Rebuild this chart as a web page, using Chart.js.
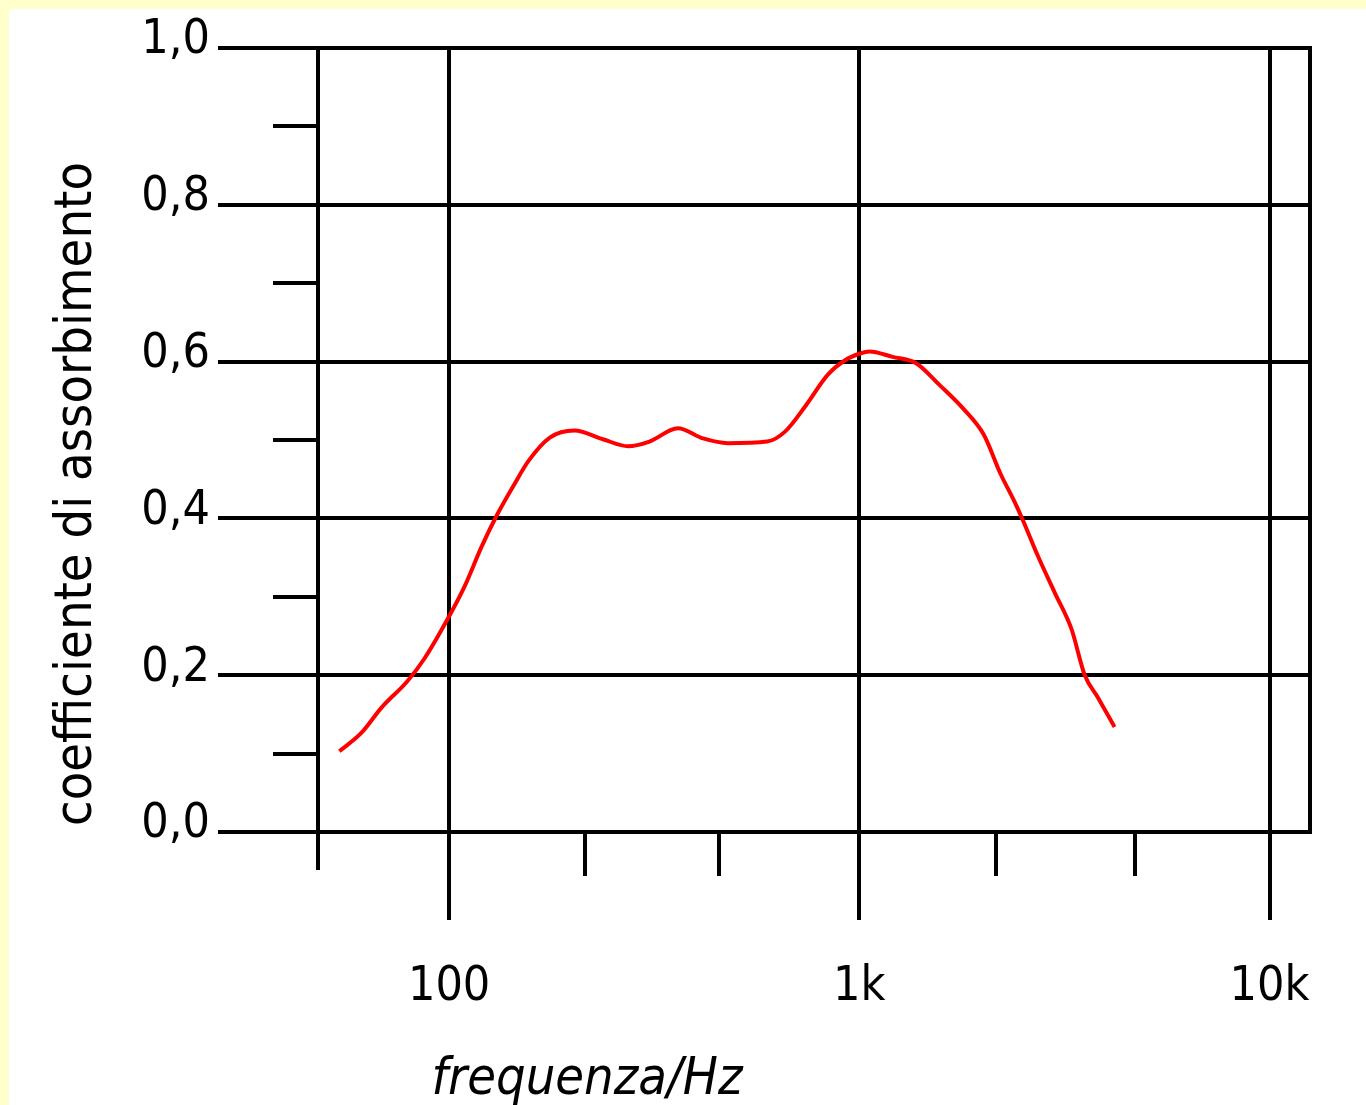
<!DOCTYPE html>
<html>
<head>
<meta charset="utf-8">
<script src="https://cdn.jsdelivr.net/npm/chart.js@4.4.1/dist/chart.umd.min.js"></script>
<style>
  html, body { margin: 0; padding: 0; background: #ffffcc; width: 1366px; height: 1105px; overflow: hidden; }
  #wrap { position: absolute; left: 9px; top: 9px; width: 1357px; height: 1096px; background: #ffffff; }
</style>
</head>
<body>
<div id="wrap"><canvas id="absChart" width="1357" height="1096"></canvas></div>
<script>
// Data
const freqHz = [54, 61, 68.5, 79, 87, 99, 109, 120, 131, 144, 156, 176, 202, 237, 273, 308, 361, 416, 478, 596,
                660, 743, 837, 925, 1000, 1058, 1205, 1375, 1570, 1792, 2010, 2213, 2386, 2503, 2730, 2996, 3289, 3545, 3821, 4190];
const absorption = [0.103, 0.126, 0.159, 0.192, 0.221, 0.271, 0.313, 0.364, 0.405, 0.443, 0.473, 0.503, 0.512, 0.501, 0.492, 0.498, 0.515, 0.502, 0.496, 0.498,
                    0.511, 0.545, 0.583, 0.602, 0.610, 0.613, 0.606, 0.598, 0.570, 0.540, 0.507, 0.456, 0.422, 0.398, 0.351, 0.305, 0.259, 0.200, 0.171, 0.134];

const xMajorTicks = [100, 1000, 10000];
const xTickLabels = ['100', '1k', '10k'];
const xMinorTicks = [214, 455, 2150, 4700];
const yMajorTicks = [0, 0.2, 0.4, 0.6, 0.8, 1.0];
const yMinorTicks = [0.1, 0.3, 0.5, 0.7, 0.9];

const xTitle = 'frequenza/Hz';
const yTitle = 'coefficiente di assorbimento';

const FONT = "'DejaVu Sans Condensed', 'DejaVu Sans', sans-serif";
const LINE_W = 4;

// frame, outer tick marks and axis titles
const axisDecor = {
    id: 'axisDecor',
    beforeDatasetsDraw(chart) {
        const { ctx, chartArea: a, scales: { x, y } } = chart;
        ctx.save();
        ctx.strokeStyle = '#000';
        ctx.lineWidth = LINE_W;
        ctx.beginPath();
        ctx.rect(a.left, a.top, a.right - a.left, a.bottom - a.top);
        yMajorTicks.forEach(v => {
            const p = Math.round(y.getPixelForValue(v));
            ctx.moveTo(a.left - 100, p); ctx.lineTo(a.left, p);
        });
        yMinorTicks.forEach(v => {
            const p = Math.round(y.getPixelForValue(v));
            ctx.moveTo(a.left - 45, p); ctx.lineTo(a.left, p);
        });
        xMajorTicks.forEach(v => {
            const p = Math.round(x.getPixelForValue(v));
            ctx.moveTo(p, a.bottom); ctx.lineTo(p, a.bottom + 88);
        });
        xMinorTicks.forEach(v => {
            const p = Math.round(x.getPixelForValue(v));
            ctx.moveTo(p, a.bottom); ctx.lineTo(p, a.bottom + 44);
        });
        ctx.moveTo(a.left, a.bottom); ctx.lineTo(a.left, a.bottom + 38);
        ctx.stroke();
        ctx.restore();
    },
    afterDraw(chart) {
        const { ctx } = chart;
        ctx.save();
        ctx.fillStyle = '#000';
        ctx.textAlign = 'center';
        ctx.textBaseline = 'alphabetic';

        ctx.font = 'italic 52px ' + FONT;
        ctx.fillText(xTitle, 578, 1085);

        ctx.translate(82, 485);
        ctx.rotate(-Math.PI / 2);
        ctx.font = '52px ' + FONT;
        ctx.fillText(yTitle, 0, 0);
        ctx.restore();
    }
};

// the big label paddings must not push the plot area around
function fixBox(size) {
    return s => {
        if (s.isHorizontal()) s.height = size; else s.width = size;
        s.paddingTop = 0; s.paddingBottom = 0; s.paddingLeft = 0; s.paddingRight = 0;
    };
}

const ctx = document.getElementById('absChart').getContext('2d');
new Chart(ctx, {
    type: 'line',
    data: {
        datasets: [{
            data: freqHz.map((f, i) => ({ x: f, y: absorption[i] })),
            borderColor: '#ff0000',
            borderWidth: 4,
            pointRadius: 0,
            fill: false,
            tension: 0.3,
            cubicInterpolationMode: 'monotone'
        }]
    },
    options: {
        responsive: false,
        devicePixelRatio: 1,
        animation: false,
        layout: { padding: { top: 39, right: 56, left: 0, bottom: 0 } },
        plugins: { legend: { display: false }, tooltip: { enabled: false } },
        scales: {
            x: {
                type: 'logarithmic',
                min: 47.9,
                max: 12550,
                afterFit: fixBox(273),
                afterBuildTicks: s => { s.ticks = xMajorTicks.map(v => ({ value: v })); },
                border: { display: false },
                grid: { color: '#000', lineWidth: LINE_W, drawTicks: false },
                ticks: {
                    autoSkip: false,
                    maxRotation: 0,
                    padding: 127,
                    color: '#000',
                    font: { family: FONT, size: 48 },
                    callback: (v, i) => xTickLabels[i]
                }
            },
            y: {
                type: 'linear',
                min: 0,
                max: 1,
                afterFit: fixBox(309),
                afterBuildTicks: s => { s.ticks = yMajorTicks.map(v => ({ value: v })); },
                border: { display: false },
                grid: { color: '#000', lineWidth: LINE_W, drawTicks: false },
                ticks: {
                    padding: 108,
                    labelOffset: -7,
                    color: '#000',
                    font: { family: FONT, size: 48 },
                    callback: v => v.toFixed(1).replace('.', ',')
                }
            }
        }
    },
    plugins: [axisDecor]
});
</script>
</body>
</html>
